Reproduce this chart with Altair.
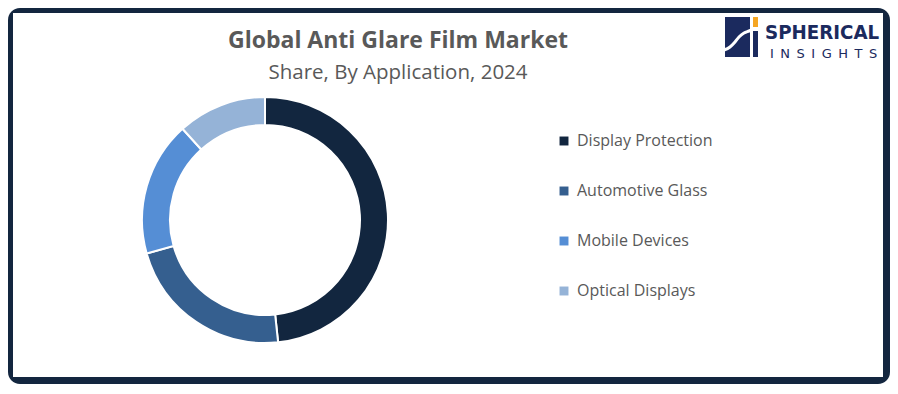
import altair as alt
import pandas as pd

# ---- data ----
categories = ["Display Protection", "Automotive Glass", "Mobile Devices", "Optical Displays"]
shares = [48.3, 22.3, 17.7, 11.7]
colors = ["#12263F", "#355F8F", "#558ED5", "#95B3D7"]

title_text = "Global Anti Glare Film Market"
subtitle_text = "Share, By Application, 2024"

W, H = 882, 376
TEXT_GRAY = "#595959"
NAVY = "#13263F"
LOGO_NAVY = "#1B2A5E"

df = pd.DataFrame({"category": categories, "share": shares, "order": list(range(len(categories)))})
one = pd.DataFrame({"a": [0]})

# frame
frame = alt.Chart(one).mark_rect(color=NAVY, cornerRadius=12).encode(
    x=alt.value(0), x2=alt.value(W), y=alt.value(0), y2=alt.value(H)
)
inner = alt.Chart(one).mark_rect(color="white").encode(
    x=alt.value(5), x2=alt.value(W - 7), y=alt.value(5), y2=alt.value(H - 7)
)

# donut
donut = alt.Chart(df).mark_arc(outerRadius=123, innerRadius=95, stroke="white", strokeWidth=2).encode(
    theta=alt.Theta("share:Q", stack=True),
    order=alt.Order("order:Q"),
    color=alt.Color(
        "category:N",
        scale=alt.Scale(domain=categories, range=colors),
        sort=categories,
        legend=alt.Legend(
            title=None,
            orient="none",
            legendX=548,
            legendY=125,
            symbolType="square",
            symbolSize=80,
            symbolStrokeWidth=0,
            labelFont="Open Sans",
            labelFontSize=16,
            labelColor=TEXT_GRAY,
            labelOffset=5,
            rowPadding=34,
        ),
    ),
    x=alt.value(257),
    y=alt.value(212),
)

# titles
title = alt.Chart(one).mark_text(
    text=title_text, font="Open Sans", fontSize=23, fontWeight="bold", color=TEXT_GRAY,
    align="center", baseline="alphabetic"
).encode(x=alt.value(390), y=alt.value(40))
subtitle = alt.Chart(one).mark_text(
    text=subtitle_text, font="Open Sans", fontSize=20.5, color=TEXT_GRAY,
    align="center", baseline="alphabetic"
).encode(x=alt.value(390), y=alt.value(71))

# logo
logo_block = alt.Chart(one).mark_rect(color=LOGO_NAVY).encode(
    x=alt.value(717), x2=alt.value(742), y=alt.value(9), y2=alt.value(49)
)
logo_orange = alt.Chart(one).mark_rect(color="#F5A623").encode(
    x=alt.value(745), x2=alt.value(750), y=alt.value(9), y2=alt.value(19)
)
logo_bar = alt.Chart(one).mark_rect(color=LOGO_NAVY).encode(
    x=alt.value(745), x2=alt.value(750), y=alt.value(23), y2=alt.value(49)
)
curve = pd.DataFrame({
    "px": [716, 722, 727, 731, 736, 741, 746],
    "py": [42, 39, 34, 29, 25, 23, 21],
})
logo_curve = alt.Chart(curve).mark_line(color="white", strokeWidth=3, interpolate="monotone").encode(
    x=alt.X("px:Q", scale=None), y=alt.Y("py:Q", scale=None)
)
logo_t1 = alt.Chart(one).mark_text(
    text="SPHERICAL", font="'DejaVu Sans Condensed', Roboto, sans-serif", fontSize=20.3,
    fontWeight="bold", color=LOGO_NAVY, align="left", baseline="alphabetic"
).encode(x=alt.value(757), y=alt.value(31))
logo_t2 = alt.Chart(one).mark_text(
    text="I\u2002N\u2002S\u2002I\u2002G\u2002H\u2002T\u2002S", font="DejaVu Sans", fontSize=13,
    color=LOGO_NAVY, align="left", baseline="alphabetic"
).encode(x=alt.value(762), y=alt.value(50))

chart = alt.layer(
    frame, inner, donut, title, subtitle, logo_block, logo_orange, logo_bar, logo_curve, logo_t1, logo_t2
).properties(
    width=W, height=H, padding=0,
    autosize=alt.AutoSizeParams(type="fit", contains="padding"),
    background="white",
).configure_view(stroke=None)

chart.save("out.html", embed_options={"renderer": "svg", "actions": False})
